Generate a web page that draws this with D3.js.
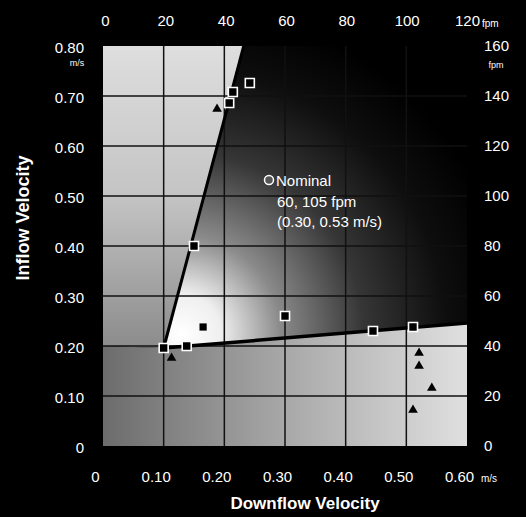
<!DOCTYPE html>
<html>
<head>
<meta charset="utf-8">
<script src="https://cdn.jsdelivr.net/npm/d3@7"></script>
<style>
  body { margin: 0; background: #000; }
  svg { display: block; }
  text { font-family: "Liberation Sans", Arial, sans-serif; fill: #fff; }
</style>
</head>
<body>
<div id="chart"></div>
<script>
// tick labels
const downflowTicks = [0, 0.1, 0.2, 0.3, 0.4, 0.5, 0.6];
const inflowTicks = [0, 0.1, 0.2, 0.3, 0.4, 0.5, 0.6, 0.7, 0.8];
const fpmTopTicks = [0, 20, 40, 60, 80, 100, 120];
const fpmRightTicks = [0, 20, 40, 60, 80, 100, 120, 140, 160];

// boundary lines (m/s)
const vertex = [0.10, 0.196];
const steepEnd = [0.232, 0.80];
const shallowEnd = [0.60, 0.246];

// test points (downflow, inflow) in m/s
const squares = [
  [0.100, 0.196], [0.138, 0.200], [0.150, 0.400], [0.300, 0.260],
  [0.445, 0.230], [0.511, 0.238], [0.208, 0.686], [0.214, 0.708],
  [0.242, 0.726]
];
const solidSquares = [[0.165, 0.238]];
const triangles = [
  [0.188, 0.674], [0.113, 0.176], [0.521, 0.186], [0.521, 0.160],
  [0.542, 0.116], [0.511, 0.072]
];
const nominal = [0.30, 0.53];
const nominalLabel = ["Nominal", "60, 105 fpm", "(0.30, 0.53 m/s)"];

const width = 526;
const height = 517;

const svg = d3.select("#chart")
  .append("svg")
  .attr("width", width)
  .attr("height", height);

svg.append("rect").attr("width", width).attr("height", height).attr("fill", "#000");

const x = d3.scaleLinear().domain([0, 0.6]).range([103, 467]);
const y = d3.scaleLinear().domain([0, 0.8]).range([446, 46]);
const xTop = d3.scaleLinear().domain([0, 120]).range([105, 467]);
const yRight = d3.scaleLinear().domain([0, 160]).range([446, 46]);

const defs = svg.append("defs");

const leftGrad = defs.append("linearGradient")
  .attr("id", "leftGrad")
  .attr("gradientUnits", "userSpaceOnUse")
  .attr("x1", 0).attr("y1", y(0.8)).attr("x2", 0).attr("y2", y(0.2));
leftGrad.append("stop").attr("offset", 0).attr("stop-color", "#dedede");
leftGrad.append("stop").attr("offset", 0.5).attr("stop-color", "#c4c4c4");
leftGrad.append("stop").attr("offset", 1).attr("stop-color", "#8c8c8c");

const bottomGrad = defs.append("linearGradient")
  .attr("id", "bottomGrad")
  .attr("gradientUnits", "userSpaceOnUse")
  .attr("x1", x(0)).attr("y1", 0).attr("x2", x(0.6)).attr("y2", 0);
bottomGrad.append("stop").attr("offset", 0).attr("stop-color", "#6c6c6c");
bottomGrad.append("stop").attr("offset", 0.5).attr("stop-color", "#a8a8a8");
bottomGrad.append("stop").attr("offset", 1).attr("stop-color", "#e0e0e0");

const wedgeGrad = defs.append("radialGradient")
  .attr("id", "wedgeGrad")
  .attr("gradientUnits", "userSpaceOnUse")
  .attr("cx", x(vertex[0]) + 18).attr("cy", y(vertex[1]) - 14)
  .attr("r", 330);
wedgeGrad.append("stop").attr("offset", 0).attr("stop-color", "#ffffff");
wedgeGrad.append("stop").attr("offset", 0.12).attr("stop-color", "#efefef");
wedgeGrad.append("stop").attr("offset", 0.3).attr("stop-color", "#8a8a8a");
wedgeGrad.append("stop").attr("offset", 0.55).attr("stop-color", "#363636");
wedgeGrad.append("stop").attr("offset", 0.8).attr("stop-color", "#0e0e0e");
wedgeGrad.append("stop").attr("offset", 1).attr("stop-color", "#000000");

const poly = d3.line().x(d => x(d[0])).y(d => y(d[1]));

svg.append("path")
  .attr("d", poly([[0, 0.8], steepEnd, vertex, [0, 0.2]]) + "Z")
  .attr("fill", "url(#leftGrad)");

svg.append("path")
  .attr("d", poly([[0, 0.2], vertex, shallowEnd, [0.6, 0], [0, 0]]) + "Z")
  .attr("fill", "url(#bottomGrad)");

svg.append("path")
  .attr("d", poly([vertex, steepEnd, [0.6, 0.8], shallowEnd]) + "Z")
  .attr("fill", "url(#wedgeGrad)");

// grid
svg.append("g")
  .selectAll("line")
  .data(downflowTicks.slice(1, -1))
  .enter()
  .append("line")
  .attr("x1", d => x(d)).attr("x2", d => x(d))
  .attr("y1", y(0)).attr("y2", y(0.8))
  .attr("stroke", "#111").attr("stroke-width", 1.5);

svg.append("g")
  .selectAll("line")
  .data(inflowTicks.slice(1, -1))
  .enter()
  .append("line")
  .attr("x1", x(0)).attr("x2", x(0.6))
  .attr("y1", d => y(d)).attr("y2", d => y(d))
  .attr("stroke", "#111").attr("stroke-width", 1.5);

// boundary lines
svg.append("path")
  .attr("d", poly([vertex, steepEnd]))
  .attr("stroke", "#000").attr("stroke-width", 3).attr("fill", "none");
svg.append("path")
  .attr("d", poly([vertex, shallowEnd]))
  .attr("stroke", "#000").attr("stroke-width", 3.5).attr("fill", "none");

// axes
function styleAxis(g) {
  g.select(".domain").remove();
  g.selectAll(".tick line").remove();
  g.selectAll("text")
    .attr("fill", "#fff")
    .style("font-size", "15px")
    .style("font-family", "'Liberation Sans', Arial, sans-serif");
}

const fmt = d => d === 0 ? "0" : d3.format(".2f")(d);

svg.append("g")
  .attr("transform", `translate(0, ${y(0)})`)
  .call(d3.axisBottom(x).tickValues(downflowTicks).tickFormat(fmt).tickSize(0).tickPadding(25))
  .call(styleAxis)
  .selectAll("text").attr("dx", -8);

svg.append("g")
  .attr("transform", `translate(${x(0)}, 0)`)
  .call(d3.axisLeft(y).tickValues(inflowTicks).tickFormat(fmt).tickSize(0).tickPadding(19))
  .call(styleAxis)
  .selectAll("text").attr("dy", "0.45em");

svg.append("g")
  .attr("transform", `translate(0, ${y(0.8)})`)
  .call(d3.axisTop(xTop).tickValues(fpmTopTicks).tickSize(0).tickPadding(20))
  .call(styleAxis);

svg.append("g")
  .attr("transform", `translate(${x(0.6)}, 0)`)
  .call(d3.axisRight(yRight).tickValues(fpmRightTicks).tickSize(0).tickPadding(17))
  .call(styleAxis)
  .selectAll("text").attr("dy", "0.3em");

// units
svg.append("text").attr("x", 77).attr("y", 66).attr("text-anchor", "middle")
  .style("font-size", "9px").text("m/s");
svg.append("text").attr("x", 496).attr("y", 68).attr("text-anchor", "middle")
  .style("font-size", "9px").text("fpm");
svg.append("text").attr("x", 482).attr("y", 27)
  .style("font-size", "10px").text("fpm");
svg.append("text").attr("x", 481).attr("y", 482)
  .style("font-size", "10px").text("m/s");

// axis titles
svg.append("text")
  .attr("transform", "translate(29, 218) rotate(-90)")
  .attr("text-anchor", "middle")
  .style("font-size", "18px").style("font-weight", "bold")
  .text("Inflow Velocity");

svg.append("text")
  .attr("x", 305).attr("y", 509)
  .attr("text-anchor", "middle")
  .style("font-size", "17px").style("font-weight", "bold")
  .text("Downflow Velocity");

// markers
const sq = d3.symbol().type(d3.symbolSquare).size(81);
const sqSmall = d3.symbol().type(d3.symbolSquare).size(52);
const tri = d3.symbol().type(d3.symbolTriangle).size(40);

svg.append("g")
  .selectAll("path")
  .data(squares)
  .enter()
  .append("path")
  .attr("d", sq)
  .attr("transform", d => `translate(${x(d[0])}, ${y(d[1])})`)
  .attr("fill", "#000")
  .attr("stroke", "#fff")
  .attr("stroke-width", 1.6);

svg.append("g")
  .selectAll("path")
  .data(solidSquares)
  .enter()
  .append("path")
  .attr("d", sqSmall)
  .attr("transform", d => `translate(${x(d[0])}, ${y(d[1])})`)
  .attr("fill", "#000");

svg.append("g")
  .selectAll("path")
  .data(triangles)
  .enter()
  .append("path")
  .attr("d", tri)
  .attr("transform", d => `translate(${x(d[0])}, ${y(d[1])})`)
  .attr("fill", "#000");

// nominal point
svg.append("circle")
  .attr("cx", x(nominal[0]) - 16).attr("cy", y(nominal[1]) - 1)
  .attr("r", 4.5)
  .attr("fill", "#555").attr("stroke", "#fff").attr("stroke-width", 1.5);

svg.append("g")
  .selectAll("text")
  .data(nominalLabel)
  .enter()
  .append("text")
  .attr("x", (d, i) => i === 0 ? x(nominal[0]) - 9 : x(nominal[0]) - 8)
  .attr("y", (d, i) => y(nominal[1]) + 5 + i * 20.5)
  .style("font-size", "15px")
  .text(d => d);
</script>
</body>
</html>
